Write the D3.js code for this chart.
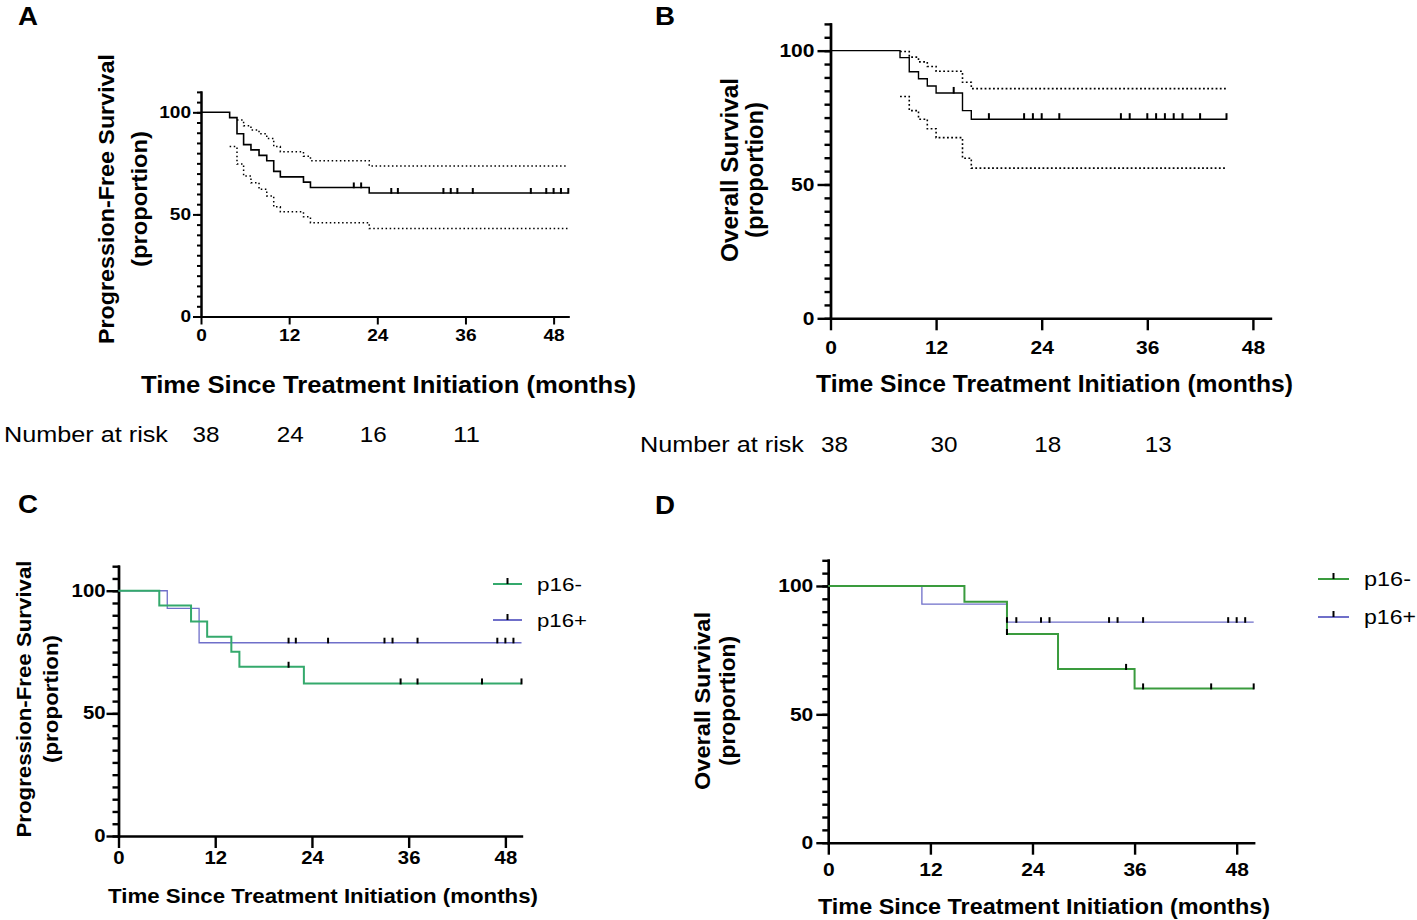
<!DOCTYPE html>
<html>
<head>
<meta charset="utf-8">
<script src="https://cdn.jsdelivr.net/npm/d3@7/dist/d3.min.js"></script>
<style>
  html, body { margin: 0; padding: 0; background: #fff; }
  svg { display: block; font-family: "Liberation Sans", Arial, Helvetica, sans-serif; }
</style>
</head>
<body>
<svg id="chart" width="1417" height="920"></svg>
<script>
// ---------------- DATA ----------------
const monthTicks = [0, 12, 24, 36, 48];
const yMajorTicks = [0, 50, 100];
const yMinorTicks = [0,5,10,15,20,25,30,35,40,45,50,55,60,65,70,75,80,85,90,95,100,105,110];

// Panel A: Progression-free survival, all patients (time in months, survival %)
const pfsAll = [[0,100],[3.9,97.4],[4.9,89.5],[5.8,84.2],[6.8,81.6],[7.9,78.9],[8.95,76.3],[9.9,71.1],[10.8,68.4],[13.95,65.8],[14.9,63.2],[22.9,60.5]];
const pfsAllUpper = [[4.9,96.2],[5.8,93.4],[6.8,91.3],[7.9,89.5],[8.95,87.2],[9.9,83.2],[10.8,80.7],[13.95,78.5],[14.9,76.3],[22.9,73.7]];
const pfsAllLower = [[3.9,83.2],[4.9,74.7],[5.8,68.8],[6.8,65.5],[7.9,62.3],[8.95,59.0],[9.9,53.7],[10.8,51.3],[13.95,48.8],[14.9,45.9],[22.9,43.1]];
const pfsAllCensor = [20.8,21.8,25.9,26.8,33.0,34.0,34.9,37.0,44.9,47.0,48.0,49.0,50.0];
const pfsAllEnd = 50;
const pfsRiskTimes = [0, 12, 24, 36];
const pfsRiskCounts = [38, 24, 16, 11];

// Panel B: Overall survival, all patients
const osAll = [[0,100],[7.9,97.4],[8.95,92.1],[10.0,89.5],[11.0,86.8],[12.0,84.2],[15.0,77.6],[16.0,74.4]];
const osAllUpper = [[7.9,99.7],[8.95,97.6],[10.0,95.8],[11.0,94.1],[12.0,92.3],[15.0,88.2],[16.0,85.8]];
const osAllLower = [[7.9,82.9],[8.95,77.6],[10.0,74.4],[11.0,70.8],[12.0,67.5],[15.0,59.8],[16.0,56.1]];
const osAllCensor = [14.0,18.0,22.0,23.0,24.0,26.0,33.0,34.0,36.0,37.0,38.0,39.0,40.0,42.0,45.0];
const osAllEnd = 45;
const osRiskTimes = [0, 12, 24, 36];
const osRiskCounts = [38, 30, 18, 13];

// Panel C: PFS by p16 status
const pfsNeg = [[0,100],[5.06,94.0],[9.0,87.5],[11.0,81.2],[14.0,75.1],[15.0,69.0],[23.0,62.2]];
const pfsNegCensor = [21.1,35.0,37.1,45.1,50.0];
const pfsPos = [[0,100],[6.05,92.8],[10.0,78.8]];
const pfsPosCensor = [21.1,22.0,26.0,33.0,34.0,37.1,47.0,48.0,49.0];

// Panel D: OS by p16 status
const osNeg = [[0,100],[16.0,93.9],[21.0,81.3],[27.0,67.7],[36.0,60.1]];
const osNegCensor = [21.0,35.0,37.0,45.0,50.0];
const osPos = [[0,100],[11.0,92.9],[21.0,85.9]];
const osPosCensor = [21.0,22.1,25.0,26.0,33.0,34.0,37.0,47.0,48.0,49.0];

const groupLabels = ["p16-", "p16+"];
const xTitle = "Time Since Treatment Initiation (months)";

// ---------------- DRAWING ----------------
const svg = d3.select("#chart");
const FONT = '"Liberation Sans", Arial, Helvetica, sans-serif';

function stepValue(curve, t) {
  let v = curve[0][1];
  for (const p of curve) { if (p[0] <= t + 1e-9) v = p[1]; }
  return v;
}

function makePanel(cfg) {
  const g = svg.append("g");
  const x = d3.scaleLinear().domain([0, 50]).range([cfg.x0, cfg.x50]);
  const y = d3.scaleLinear().domain([0, 110]).range([cfg.y0, cfg.yTop]);

  const yMinor = g.append("g").attr("transform", `translate(${cfg.x0},0)`)
    .call(d3.axisLeft(y).tickValues(yMinorTicks).tickSize(cfg.minorLen).tickSizeOuter(0).tickFormat(""));
  const yMajor = g.append("g").attr("transform", `translate(${cfg.x0},0)`)
    .call(d3.axisLeft(y).tickValues(yMajorTicks).tickSize(cfg.majorLen).tickSizeOuter(0).tickPadding(cfg.yPad));
  const xAx = g.append("g").attr("transform", `translate(0,${cfg.y0})`)
    .call(d3.axisBottom(x).tickValues(monthTicks).tickSize(cfg.xTickLen).tickSizeOuter(0).tickPadding(cfg.xPad));

  [yMinor, yMajor, xAx].forEach(a => {
    a.attr("font-size", cfg.tickFont);
    a.selectAll("path, line").attr("stroke", "#000").attr("stroke-width", cfg.axisW);
    a.selectAll("path").attr("stroke-linecap", "square");
    a.selectAll("text").attr("fill", "#000").attr("font-family", FONT)
      .attr("font-weight", "bold").attr("font-size", cfg.tickFont)
      .attr("textLength", d => String(d).length * cfg.digitW)
      .attr("lengthAdjust", "spacingAndGlyphs");
  });

  const cy = cfg.yTitleY;
  g.append("text").attr("transform", `translate(${cfg.yTitleX1},${cy}) rotate(-90)`)
    .attr("text-anchor", "middle").attr("font-weight", "bold").attr("font-size", cfg.yTitleFont)
    .attr("textLength", cfg.yTitleLen1).attr("lengthAdjust", "spacingAndGlyphs")
    .text(cfg.yTitle1);
  g.append("text").attr("transform", `translate(${cfg.yTitleX2},${cy}) rotate(-90)`)
    .attr("text-anchor", "middle").attr("font-weight", "bold").attr("font-size", cfg.yTitleFont)
    .attr("textLength", cfg.yTitleLen2).attr("lengthAdjust", "spacingAndGlyphs")
    .text("(proportion)");

  g.append("text").attr("x", cfg.xTitleX).attr("y", cfg.xTitleY)
    .attr("font-weight", "bold").attr("font-size", cfg.xTitleFont)
    .attr("textLength", cfg.xTitleLen).attr("lengthAdjust", "spacingAndGlyphs")
    .text(xTitle);

  g.append("text").attr("x", cfg.letterX).attr("y", cfg.letterY)
    .attr("font-weight", "bold").attr("font-size", 26)
    .attr("textLength", 20).attr("lengthAdjust", "spacingAndGlyphs").text(cfg.letter);

  return { g, x, y };
}

function drawStep(p, pts, end, stroke, width, dash) {
  const full = pts.concat([[end, pts[pts.length - 1][1]]]);
  const line = d3.line().x(d => p.x(d[0])).y(d => p.y(d[1])).curve(d3.curveStepAfter);
  const path = p.g.append("path").datum(full).attr("d", line)
    .attr("fill", "none").attr("stroke", stroke).attr("stroke-width", width);
  if (dash) path.attr("stroke-dasharray", dash);
}

function drawCensor(p, curve, times, h, w, lineW) {
  p.g.selectAll(null).data(times).enter().append("line")
    .attr("x1", d => p.x(d)).attr("x2", d => p.x(d))
    .attr("y1", d => p.y(stepValue(curve, d)) + lineW / 2)
    .attr("y2", d => p.y(stepValue(curve, d)) - h)
    .attr("stroke", "#000").attr("stroke-width", w);
}

function drawRisk(p, label, labelX, baseY, times, counts, offsets) {
  p.g.append("text").attr("x", labelX).attr("y", baseY)
    .attr("font-size", 22).attr("textLength", 164).attr("lengthAdjust", "spacingAndGlyphs")
    .text(label);
  p.g.selectAll(null).data(counts).enter().append("text")
    .attr("x", (d, i) => p.x(times[i]) + offsets[i]).attr("y", baseY)
    .attr("text-anchor", "middle").attr("font-size", 22)
    .attr("textLength", 27).attr("lengthAdjust", "spacingAndGlyphs").text(d => d);
}

function drawLegend(p, items, lx1, lx2, ys, tx, font, lens) {
  items.forEach((it, i) => {
    p.g.append("line").attr("x1", lx1).attr("x2", lx2).attr("y1", ys[i]).attr("y2", ys[i])
      .attr("stroke", it.color).attr("stroke-width", 2);
    p.g.append("line").attr("x1", (lx1 + lx2) / 2).attr("x2", (lx1 + lx2) / 2)
      .attr("y1", ys[i]).attr("y2", ys[i] - 6).attr("stroke", "#000").attr("stroke-width", 2);
    p.g.append("text").attr("x", tx).attr("y", ys[i] + 7).attr("font-size", font)
      .attr("textLength", lens[i]).attr("lengthAdjust", "spacingAndGlyphs").text(it.label);
  });
}

const GREEN_C = "#34a96c";
const GREEN_D = "#3a9b3e";
const BLUE = "#6f6fc9";

// ---- Panel A ----
const pA = makePanel({
  letter: "A", letterX: 18, letterY: 25,
  x0: 201, x50: 568.3, y0: 316.5, yTop: 91.9,
  minorLen: 4, majorLen: 8, yPad: 2, xTickLen: 8, xPad: 5, axisW: 2, tickFont: 16, digitW: 10.6,
  yTitle1: "Progression-Free Survival", yTitleX1: 114, yTitleX2: 147, yTitleY: 199,
  yTitleLen1: 290, yTitleLen2: 136, yTitleFont: 22,
  xTitleX: 141, xTitleY: 393, xTitleLen: 495, xTitleFont: 23
});
drawStep(pA, pfsAllUpper, pfsAllEnd, "#000", 1.5, "1.5,2.6");
drawStep(pA, pfsAllLower, pfsAllEnd, "#000", 1.5, "1.5,2.6");
drawStep(pA, pfsAll, pfsAllEnd, "#000", 1.6, null);
drawCensor(pA, pfsAll, pfsAllCensor, 5, 2, 1.6);
drawRisk(pA, "Number at risk", 4, 442, pfsRiskTimes, pfsRiskCounts, [5, 1, -4, 1]);

// ---- Panel B ----
const pB = makePanel({
  letter: "B", letterX: 655, letterY: 25,
  x0: 830.5, x50: 1270.5, y0: 318.3, yTop: 23.9,
  minorLen: 6, majorLen: 13, yPad: 3, xTickLen: 12, xPad: 10, axisW: 2.4, tickFont: 19, digitW: 11.7,
  yTitle1: "Overall Survival", yTitleX1: 738, yTitleX2: 763, yTitleY: 170,
  yTitleLen1: 184, yTitleLen2: 136, yTitleFont: 23,
  xTitleX: 816, xTitleY: 392, xTitleLen: 477, xTitleFont: 23
});
drawStep(pB, osAllUpper, osAllEnd, "#000", 1.6, "1.8,2.4");
drawStep(pB, osAllLower, osAllEnd, "#000", 1.6, "1.8,2.4");
drawStep(pB, osAll, osAllEnd, "#000", 1.4, null);
drawCensor(pB, osAll, osAllCensor, 6, 2, 1.4);
drawRisk(pB, "Number at risk", 640, 452, osRiskTimes, osRiskCounts, [4, 8, 6, 11]);

// ---- Panel C ----
const pC = makePanel({
  letter: "C", letterX: 18, letterY: 513,
  x0: 118.5, x50: 521.5, y0: 836, yTop: 566.2,
  minorLen: 6, majorLen: 12, yPad: 1, xTickLen: 12, xPad: 4, axisW: 2.4, tickFont: 17.5, digitW: 11.3,
  yTitle1: "Progression-Free Survival", yTitleX1: 31, yTitleX2: 58, yTitleY: 699,
  yTitleLen1: 277, yTitleLen2: 128, yTitleFont: 21,
  xTitleX: 108, xTitleY: 903, xTitleLen: 430, xTitleFont: 21
});
drawStep(pC, pfsPos, 50, BLUE, 1.3, null);
drawStep(pC, pfsNeg, 50, GREEN_C, 2, null);
drawCensor(pC, pfsNeg, pfsNegCensor, 5, 2, 2);
drawCensor(pC, pfsPos, pfsPosCensor, 5, 2, 1.3);
drawLegend(pC, [{label: groupLabels[0], color: GREEN_C}, {label: groupLabels[1], color: BLUE}],
  493, 522, [584, 620], 537, 19, [45, 50]);

// ---- Panel D ----
const pD = makePanel({
  letter: "D", letterX: 655, letterY: 514,
  x0: 828.3, x50: 1253.7, y0: 842.7, yTop: 560.3,
  minorLen: 6, majorLen: 12, yPad: 3, xTickLen: 12, xPad: 8, axisW: 2.4, tickFont: 18.5, digitW: 11.7,
  yTitle1: "Overall Survival", yTitleX1: 710, yTitleX2: 735, yTitleY: 701,
  yTitleLen1: 178, yTitleLen2: 130, yTitleFont: 22,
  xTitleX: 818, xTitleY: 914, xTitleLen: 452, xTitleFont: 22
});
drawStep(pD, osPos, 50, BLUE, 1.3, null);
drawStep(pD, osNeg, 50, GREEN_D, 2, null);
drawCensor(pD, osNeg, osNegCensor, 5, 2, 2);
drawCensor(pD, osPos, osPosCensor, 5, 2, 1.3);
drawLegend(pD, [{label: groupLabels[0], color: GREEN_D}, {label: groupLabels[1], color: BLUE}],
  1318, 1349, [579, 617], 1364, 20, [47, 52]);
</script>
</body>
</html>
